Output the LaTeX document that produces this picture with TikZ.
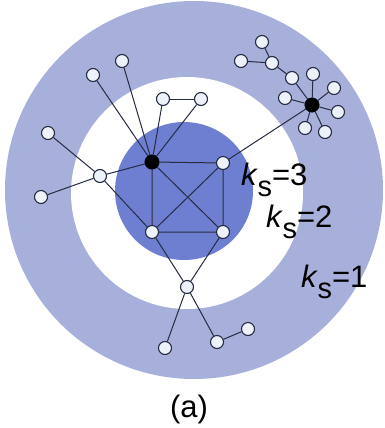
\documentclass[tikz,border=0pt]{standalone}
\usepackage{fontspec}
\setmainfont{Liberation Sans}
\usetikzlibrary{positioning}
\definecolor{ringlight}{RGB}{166,176,218}
\definecolor{coredark}{RGB}{110,127,210}
\definecolor{vfill}{RGB}{236,241,250}
\definecolor{edgecol}{RGB}{38,44,66}
\newcommand{\kshell}[1]{\textit{k}\kern-0.5pt\raisebox{-11pt}{\fontsize{29}{30}\selectfont s}=#1}
\tikzset{
  vtx/.style={
    draw=edgecol, circle, fill=vfill, line width=1.1pt,
    inner sep=0pt, minimum size=13pt
  },
  hub/.style={
    draw=black, circle, fill=black, inner sep=0pt, minimum size=14.5pt
  },
  lnk/.style={draw=edgecol, line width=1pt},
  shell/.style={font=\fontsize{31}{32}\selectfont, inner sep=0pt},
}

\begin{document}
\begin{tikzpicture}[x=1pt,y=-1pt]
  \useasboundingbox (0,0) rectangle (385,428);
  % shells
  \fill[ringlight] (194,190) circle (189pt);
  \fill[white] (187,193) circle (116pt);
  \fill[coredark] (184,191) circle (69pt);
  % core square
  \node[hub] (a) at (152,162) {};
  \node[vtx] (tr) at (223,163) {};
  \node[vtx] (bl) at (152,232) {};
  \node[vtx] (br) at (223,232) {};
  % around the left hub
  \node[vtx] (t1) at (163,99) {};
  \node[vtx] (t2) at (201,99) {};
  \node[vtx] (u1) at (93,75) {};
  \node[vtx] (u2) at (122,61) {};
  \node[vtx] (l) at (100,176) {};
  \node[vtx] (l1) at (48,133) {};
  \node[vtx] (l2) at (41,197) {};
  % below
  \node[vtx] (b) at (187,287) {};
  \node[vtx] (b1) at (165,348) {};
  \node[vtx] (b2) at (217,342) {};
  \node[vtx] (b3) at (248,329) {};
  % right hub and its star
  \node[hub] (r) at (312,105) {};
  \node[vtx] (s1) at (313,74) {};
  \node[vtx] (s2) at (334,88) {};
  \node[vtx] (s3) at (338,112) {};
  \node[vtx] (s4) at (325,132) {};
  \node[vtx] (s5) at (305,128) {};
  \node[vtx] (s6) at (285,98) {};
  \node[vtx] (s7) at (292,78) {};
  \node[vtx] (c1) at (272,63) {};
  \node[vtx] (c2) at (262,42) {};
  \node[vtx] (c3) at (241,61) {};
  % edges
  \draw[lnk] (a) -- (tr) -- (br) -- (bl) -- (a);
  \draw[lnk] (a) -- (br);
  \draw[lnk] (tr) -- (bl);
  \draw[lnk] (t1) -- (t2);
  \draw[lnk] (a) -- (t1);
  \draw[lnk] (a) -- (t2);
  \draw[lnk] (a) -- (u1);
  \draw[lnk] (a) -- (u2);
  \draw[lnk] (l) -- (a);
  \draw[lnk] (l) -- (l1);
  \draw[lnk] (l) -- (l2);
  \draw[lnk] (l) -- (bl);
  \draw[lnk] (b) -- (bl);
  \draw[lnk] (b) -- (br);
  \draw[lnk] (b) -- (b1);
  \draw[lnk] (b) -- (b2);
  \draw[lnk] (b2) -- (b3);
  \draw[lnk] (tr) -- (r);
  \foreach \s in {s1,s2,s3,s4,s5,s6,s7}
    \draw[lnk] (r) -- (\s);
  \draw[lnk] (s7) -- (c1);
  \draw[lnk] (c1) -- (c2);
  \draw[lnk] (c1) -- (c3);
  % labels
  \node[shell, anchor=base west] (k3) at (241,185) {\kshell{3}};
  \node[shell, anchor=base west] (k2) at (266,227) {\kshell{2}};
  \node[shell, anchor=base west] (k1) at (301,287) {\kshell{1}};
  \node[shell, anchor=base] (cap) at (189,417) {(a)};
\end{tikzpicture}
\end{document}
